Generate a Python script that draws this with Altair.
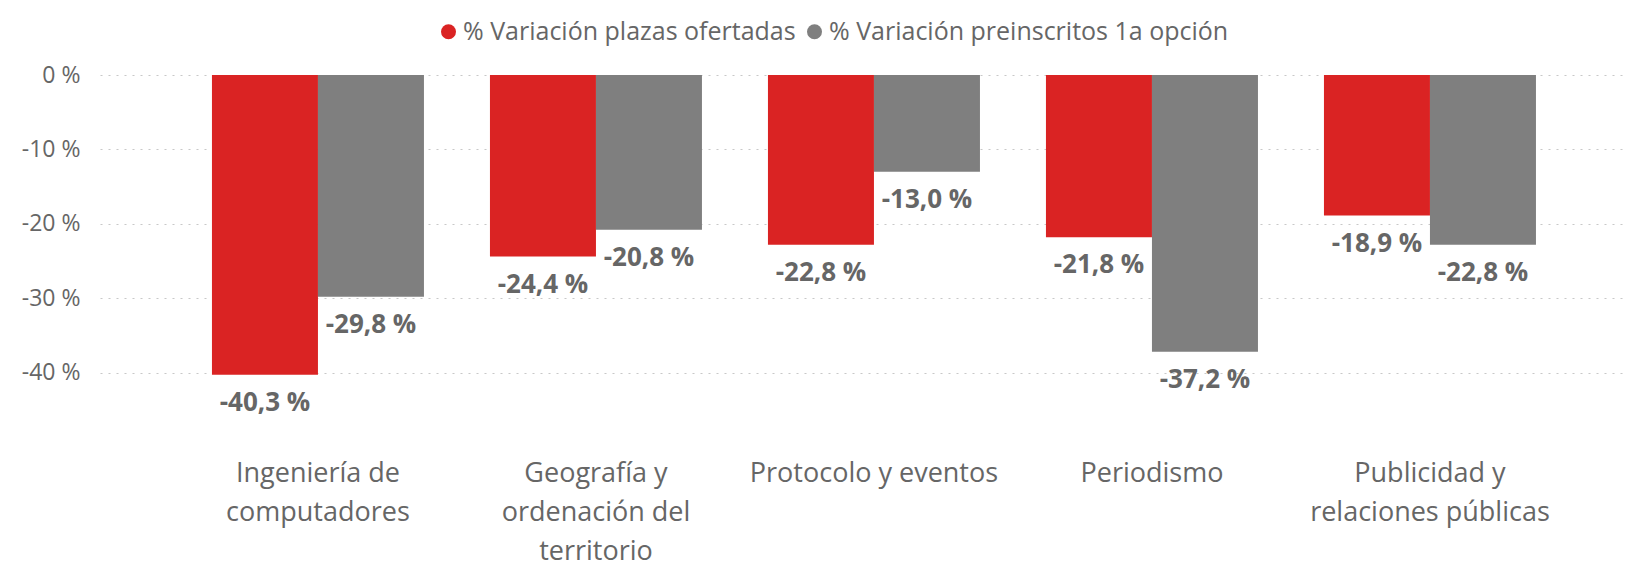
import altair as alt
import pandas as pd

categories = [
    "Ingeniería de\ncomputadores",
    "Geografía y\nordenación del\nterritorio",
    "Protocolo y eventos",
    "Periodismo",
    "Publicidad y\nrelaciones públicas",
]
series = ["% Variación plazas ofertadas", "% Variación preinscritos 1a opción"]
plazas = [-40.3, -24.4, -22.8, -21.8, -18.9]
preinscritos = [-29.8, -20.8, -13.0, -37.2, -22.8]
colors = ["#DA2323", "#7F7F7F"]
y_ticks = [0, -10, -20, -30, -40]

rows = []
for cat, a, b in zip(categories, plazas, preinscritos):
    for s, v in zip(series, [a, b]):
        rows.append({"cat": cat, "serie": s, "value": v,
                     "label": f"{v:.1f}".replace(".", ",") + " %"})
df = pd.DataFrame(rows)

FONT = "Open Sans"

x = alt.X("cat:N", sort=categories, title=None,
          scale=alt.Scale(paddingInner=0.2374, paddingOuter=0.3615, align=0.557),
          axis=alt.Axis(labelAngle=0, domain=False, ticks=False, labelPadding=13,
                        labelExpr="split(datum.label, '\\n')",
                        labelFontSize=27, labelLineHeight=39, labelColor="#666666",
                        labelFont=FONT, labelBaseline="top", labelLimit=400))
xo = alt.XOffset("serie:N", sort=series, scale=alt.Scale(paddingInner=0, paddingOuter=0))
y = alt.Y("value:Q", title=None,
          scale=alt.Scale(domain=[-50, 0], nice=False, zero=True),
          axis=alt.Axis(values=y_ticks, domain=False, ticks=False, labelPadding=20,
                        labelExpr="datum.value + ' %'", labelFontSize=23,
                        labelColor="#666666", labelFont=FONT,
                        grid=True, gridDash=[2, 6], gridColor="#C8C8C8", gridWidth=1.2))
color = alt.Color("serie:N", sort=series,
                  scale=alt.Scale(domain=series, range=colors),
                  legend=alt.Legend(title=None, orient="none", direction="horizontal",
                                    legendX=336, legendY=-56, symbolType="circle",
                                    symbolSize=225, symbolStrokeWidth=0, symbolOpacity=1,
                                    labelFontSize=25, labelColor="#666666", labelFont=FONT,
                                    labelOffset=2, columnPadding=6, labelLimit=600))

bars = alt.Chart(df).mark_bar(size=106).encode(x=x, xOffset=xo, y=y, color=color)
labels = alt.Chart(df).mark_text(dy=28, baseline="middle", align="center",
                                 fontSize=26, fontWeight="bold", font=FONT,
                                 color="#666666").encode(
    x=alt.X("cat:N", sort=categories),
    xOffset=alt.XOffset("serie:N", sort=series),
    y=alt.Y("value:Q"),
    text="label:N")

chart = alt.layer(bars, labels).properties(
    width=1525, height=372,
    autosize=alt.AutoSizeParams(type="none"),
    padding={"left": 92, "top": 67, "right": 0, "bottom": 120},
).configure(font=FONT).configure_view(strokeWidth=0, stroke="transparent")

chart.save("out.html", embed_options={"renderer": "svg", "actions": False})
